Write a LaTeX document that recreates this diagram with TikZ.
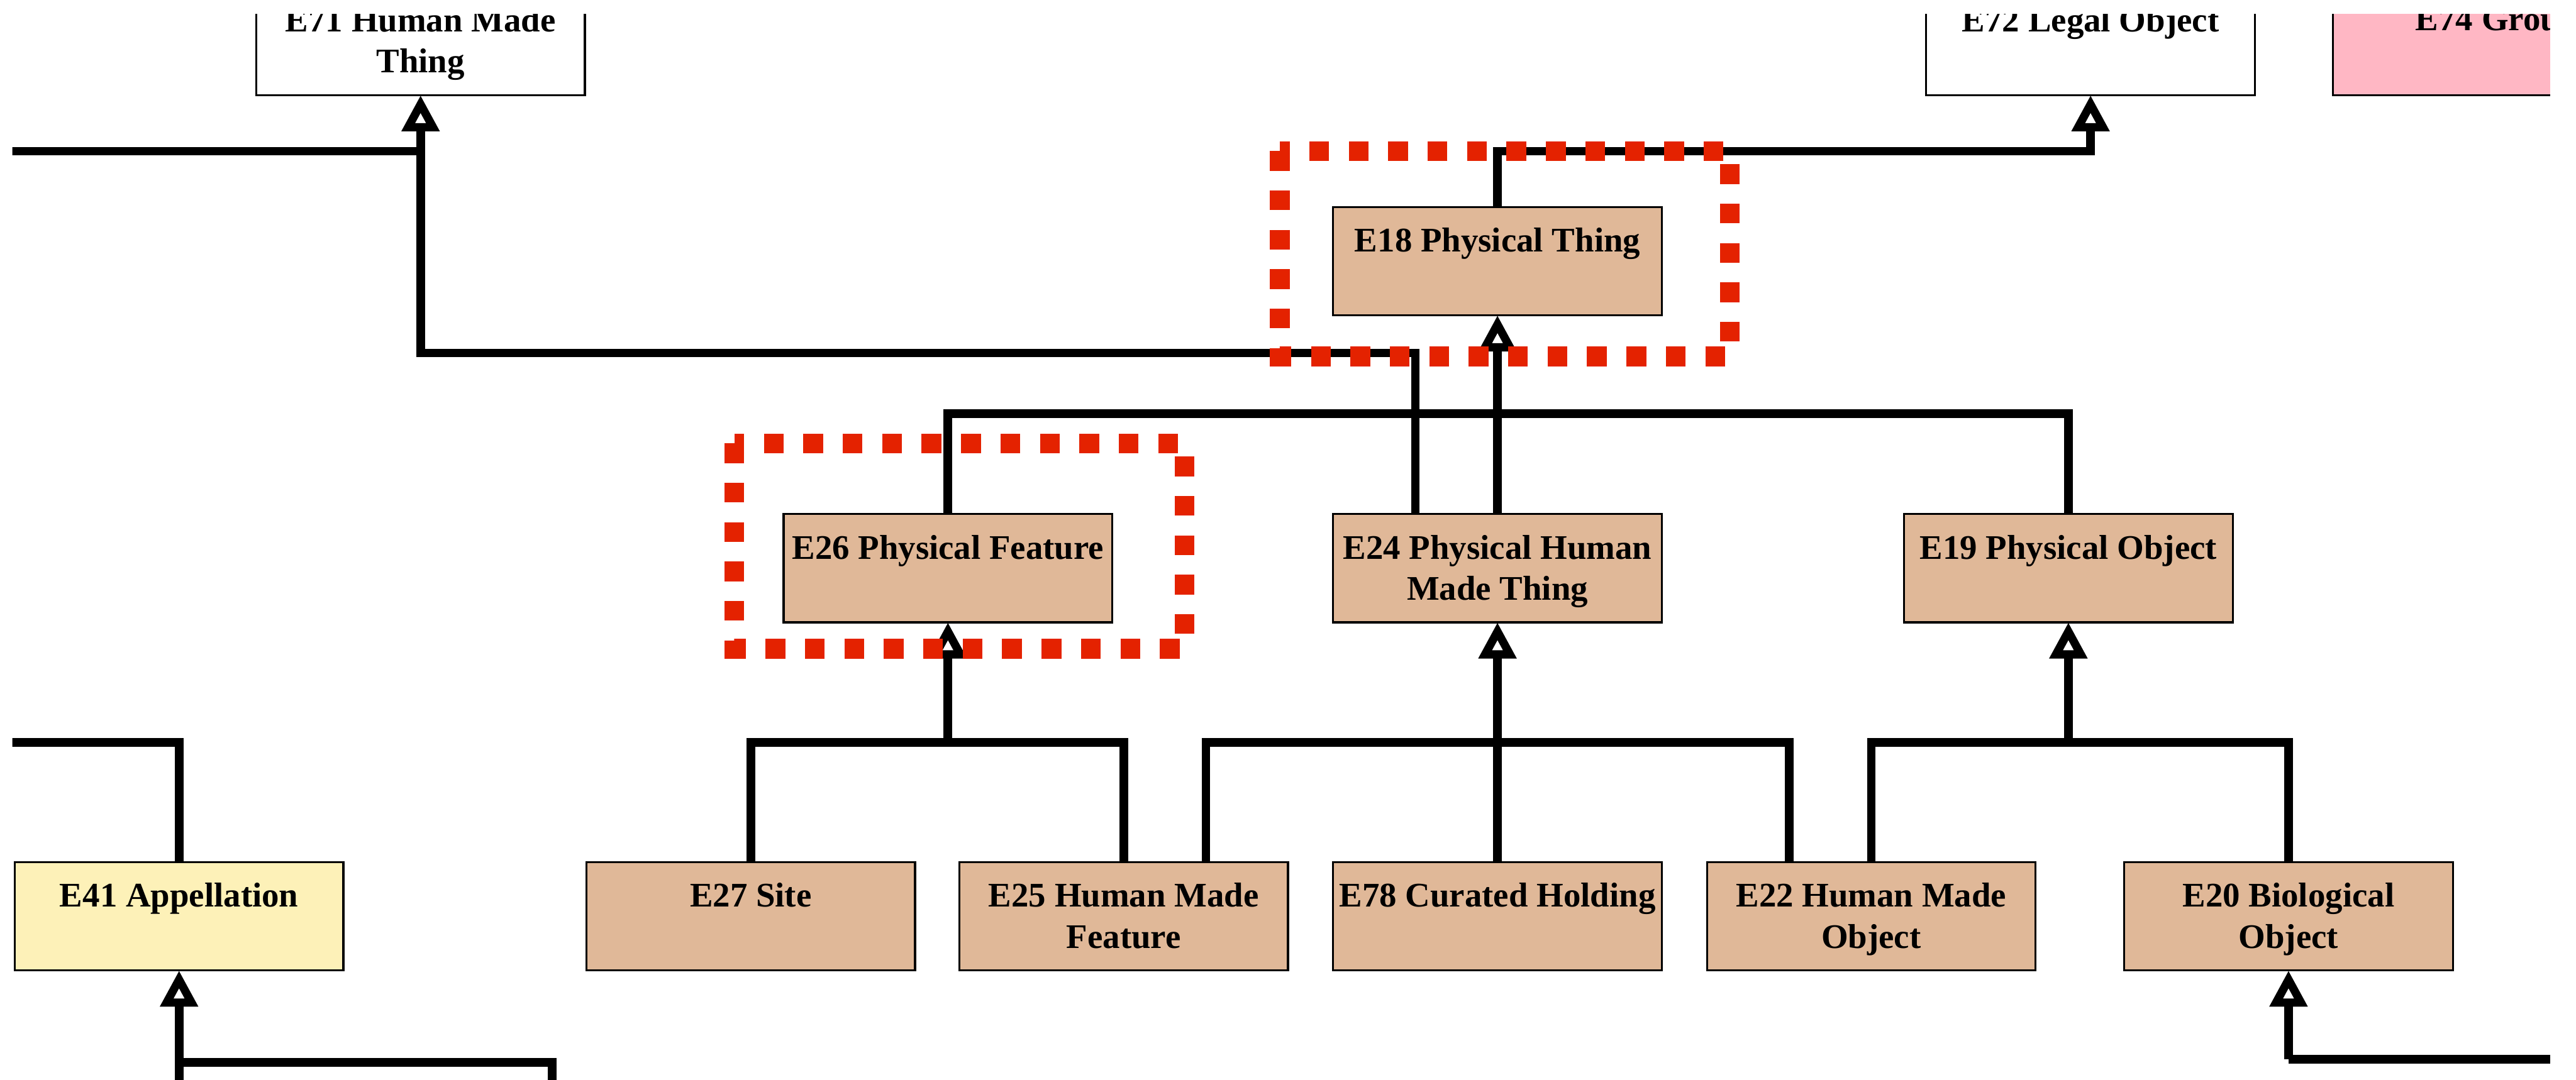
\documentclass[tikz,border=0pt]{standalone}
\usepackage{fontspec}
\setmainfont{Liberation Serif}
\usetikzlibrary{arrows.meta}

\definecolor{physbrown}{HTML}{E0B898}
\definecolor{applyellow}{HTML}{FDF1B8}
\definecolor{grouppink}{HTML}{FFB7C4}
\definecolor{markred}{HTML}{E42200}

\tikzset{
  cls/.style={draw=black, line width=0.6pt, minimum width=100pt, minimum height=33pt,
              inner sep=0pt, outer sep=0pt},
  plainclass/.style={cls, fill=white},
  physclass/.style={cls, fill=physbrown},
  apclass/.style={cls, fill=applyellow},
  grpclass/.style={cls, fill=grouppink},
  clstext/.style={anchor=north, inner sep=0pt, outer sep=0pt, align=center,
                  font=\bfseries\fontsize{10.5}{12.5}\selectfont},
  link/.style={draw=black, line width=2.6pt},
  isa/.style={link, -{Triangle[open, length=11pt, width=11pt, line width=2.5pt]}},
  focus/.style={draw=markred, line width=6pt, line cap=butt, dash pattern=on 6pt off 6pt},
}

\begin{document}
\begin{tikzpicture}[x=0.5pt, y=-0.5pt]
\useasboundingbox (0,0) rectangle (1568,657.5);

\begin{scope}
\clip (7.5,8.5) rectangle (1552.2,657.5);

% row positions of the horizontal connector runs
\coordinate (r92)  at (0,92);
\coordinate (r215) at (0,215);
\coordinate (r252) at (0,252);
\coordinate (r452) at (0,452);
\coordinate (r645) at (0,645);
\coordinate (r647) at (0,647);

% free ends running off the edges
\coordinate (w92)  at (0,92);
\coordinate (w452) at (0,452);
\coordinate (s41)  at (109,665);
\coordinate (s336) at (336,665);
\coordinate (e645) at (1570,645);

% ---- classes, top row
\node[plainclass] (e71) at (256,25)    {};
\node[plainclass] (e72) at (1272.5,25) {};
\node[grpclass]   (e74) at (1520,25)   {};
% ---- E18
\node[physclass]  (e18) at (911.5,159) {};
% ---- middle row
\node[physclass]  (e26) at (577,346)   {};
\node[physclass]  (e24) at (911.5,346) {};
\node[physclass]  (e19) at (1259,346)  {};
% ---- bottom row
\node[apclass]    (e41) at (109,558)   {};
\node[physclass]  (e27) at (457,558)   {};
\node[physclass]  (e25) at (684,558)   {};
\node[physclass]  (e78) at (911.5,558) {};
\node[physclass]  (e22) at (1139,558)  {};
\node[physclass]  (e20) at (1393,558)  {};

% ---- class names
\node[clstext] (t71) at ([yshift=-6.4pt]e71.north) {E71 Human Made\\Thing};
\node[clstext] (t72) at ([yshift=-6.4pt]e72.north) {E72 Legal Object};
\node[clstext] (t74) at ([yshift=-6.4pt]e74.north) {E74 Group};
\node[clstext] (t18) at ([yshift=-6.4pt]e18.north) {E18 Physical Thing};
\node[clstext] (t26) at ([yshift=-6.4pt]e26.north) {E26 Physical Feature};
\node[clstext] (t24) at ([yshift=-6.4pt]e24.north) {E24 Physical Human\\Made Thing};
\node[clstext] (t19) at ([yshift=-6.4pt]e19.north) {E19 Physical Object};
\node[clstext] (t41) at ([yshift=-6.4pt]e41.north) {E41 Appellation};
\node[clstext] (t27) at ([yshift=-6.4pt]e27.north) {E27 Site};
\node[clstext] (t25) at ([yshift=-6.4pt]e25.north) {E25 Human Made\\Feature};
\node[clstext] (t78) at ([yshift=-6.4pt]e78.north) {E78 Curated Holding};
\node[clstext] (t22) at ([yshift=-6.4pt]e22.north) {E22 Human Made\\Object};
\node[clstext] (t20) at ([yshift=-6.4pt]e20.north) {E20 Biological\\Object};

% ---- subclass links into E71 and E72
\draw[link] (w92) -- (e71.south |- r92);
\draw[isa]  ([xshift=-25pt]e24.north) |- (e71.south |- r215) -- (e71.south);
\draw[isa]  (e18.north) |- (e72.south |- r92) -- (e72.south);

% ---- subclasses of E18
\draw[link] (e26.north) |- (e19.north |- r252) -- (e19.north);
\draw[isa]  (e24.north) -- (e18.south);

% ---- subclasses of E26
\draw[link] (e27.north) |- (e25.north |- r452) -- (e25.north);
\draw[isa]  (e26.south |- r452) -- (e26.south);

% ---- subclasses of E24
\draw[link] ([xshift=25pt]e25.north) |- ([xshift=-25pt]e22.north |- r452) -- ([xshift=-25pt]e22.north);
\draw[isa]  (e78.north) -- (e24.south);

% ---- subclasses of E19
\draw[link] (e22.north) |- (e20.north |- r452) -- (e20.north);
\draw[isa]  (e19.south |- r452) -- (e19.south);

% ---- E41 links
\draw[link] (e41.north) |- (w452);
\draw[isa]  (s41) -- (e41.south);
\draw[link] (e41.south |- r647) -| (s336);

% ---- E20 links
\draw[isa]  (e20.south |- r645) -- (e20.south);
\draw[link] (e20.south |- r645) -- (e645);

% ---- highlight frames
\draw[focus] (779,92) rectangle (1053,217);
\draw[focus] (447,270) rectangle (721,395);
\end{scope}
\end{tikzpicture}
\end{document}
